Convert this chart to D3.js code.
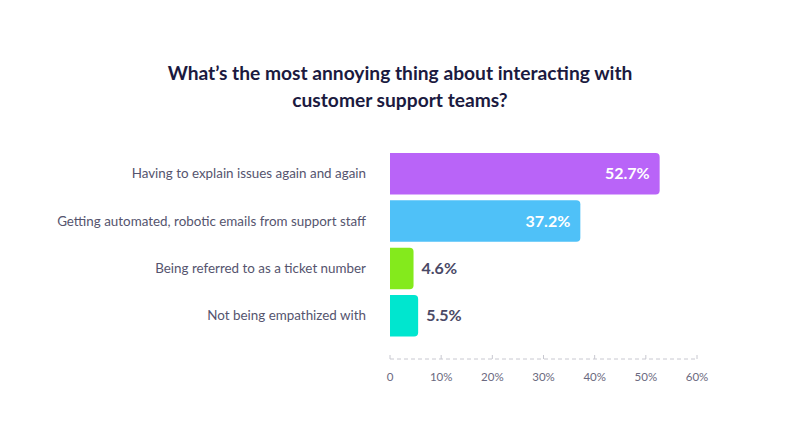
<!DOCTYPE html>
<html>
<head>
<meta charset="utf-8">
<script src="https://cdn.jsdelivr.net/npm/d3@7"></script>
<style>
  html, body { margin: 0; padding: 0; background: #fff; }
  svg { display: block; font-family: Lato, "Open Sans", sans-serif; }
</style>
</head>
<body>
<svg id="chart" width="798" height="426"></svg>
<script>
const titleLines = ["What\u2019s the most annoying thing about interacting with", "customer support teams?"];
const categories = [
  "Having to explain issues again and again",
  "Getting automated, robotic emails from support staff",
  "Being referred to as a ticket number",
  "Not being empathized with"
];
const values = [52.7, 37.2, 4.6, 5.5];
const colors = ["#b964f8", "#4fc1f8", "#84ea1c", "#00e6cf"];
const tickValues = [0, 10, 20, 30, 40, 50, 60];
const tickLabels = ["0", "10%", "20%", "30%", "40%", "50%", "60%"];

const svg = d3.select("#chart");
const x = d3.scaleLinear().domain([0, 60]).range([390, 697]);
const y = d3.scaleBand().domain(categories).range([153, 336.5]).paddingInner(0.123).paddingOuter(0);

// title
svg.append("g").selectAll("text").data(titleLines).join("text")
  .attr("x", 400).attr("y", (d, i) => 80 + i * 27)
  .attr("text-anchor", "middle")
  .attr("font-size", 19.2).attr("font-weight", 700)
  .attr("fill", "#1b1a40")
  .text(d => d);

// bars with rounded right corners
const r = 4;
function barPath(d, i) {
  const x0 = x(0), x1 = x(d), y0 = y(categories[i]), h = y.bandwidth();
  const rr = Math.min(r, (x1 - x0) / 2);
  return `M${x0},${y0}H${x1 - rr}Q${x1},${y0} ${x1},${y0 + rr}V${y0 + h - rr}Q${x1},${y0 + h} ${x1 - rr},${y0 + h}H${x0}Z`;
}
svg.append("g").selectAll("path").data(values).join("path")
  .attr("d", barPath)
  .attr("fill", (d, i) => colors[i]);

// category labels
svg.append("g").selectAll("text").data(categories).join("text")
  .attr("x", 366).attr("y", d => y(d) + y.bandwidth() / 2)
  .attr("dy", "0.35em").attr("text-anchor", "end")
  .attr("font-size", 13.4).attr("fill", "#55546e")
  .text(d => d);

// value labels
svg.append("g").selectAll("text").data(values).join("text")
  .attr("x", d => d > 20 ? x(d) - 10 : x(d) + 8)
  .attr("y", (d, i) => y(categories[i]) + y.bandwidth() / 2)
  .attr("dy", "0.35em")
  .attr("text-anchor", d => d > 20 ? "end" : "start")
  .attr("font-size", 16).attr("font-weight", 700)
  .attr("fill", d => d > 20 ? "#ffffff" : "#4a4966")
  .text(d => d.toFixed(1) + "%");

// axis
const axisY = 359;
const ax = svg.append("g").attr("transform", `translate(0,${axisY})`);
ax.append("line").attr("x1", x(0)).attr("x2", x(60)).attr("y1", 0).attr("y2", 0)
  .attr("stroke", "#c8c8d0").attr("stroke-width", 1).attr("stroke-dasharray", "4,3");
ax.selectAll("line.tick").data(tickValues).join("line").attr("class", "tick")
  .attr("x1", d => x(d)).attr("x2", d => x(d)).attr("y1", -4).attr("y2", 0)
  .attr("stroke", "#c8c8d0");
ax.selectAll("text").data(tickValues).join("text")
  .attr("x", d => x(d)).attr("y", 22)
  .attr("text-anchor", "middle").attr("font-size", 11.5).attr("fill", "#6b6a80")
  .text((d, i) => tickLabels[i]);
</script>
</body>
</html>
